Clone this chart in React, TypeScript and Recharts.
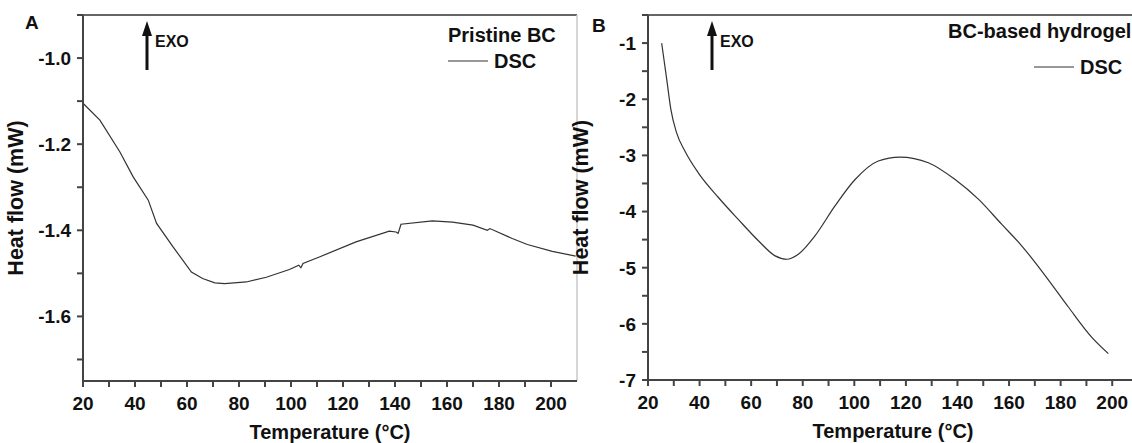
import React from "react"
import { LineChart, Line, XAxis, YAxis, ReferenceLine, Legend } from "recharts"

// Pristine BC (panel A)
const tempA = [20, 26.5, 34.2, 39.3, 45.1, 48.3, 54.7, 61.7, 66, 70.7, 74.5, 82.8, 90.5, 99.4, 103, 103.8, 104.6, 110.9, 125, 137.8, 140.4, 141.2, 142.3, 154.4, 162.1, 170, 175.5, 176.5, 185.1, 190.9, 200.5, 209.5]
const heatA = [-1.105, -1.144, -1.218, -1.276, -1.33, -1.384, -1.439, -1.497, -1.512, -1.522, -1.524, -1.52, -1.509, -1.491, -1.481, -1.487, -1.477, -1.462, -1.427, -1.402, -1.404, -1.407, -1.386, -1.378, -1.381, -1.388, -1.4, -1.396, -1.419, -1.433, -1.449, -1.46]

// BC-based hydrogel (panel B)
const tempB = [25.3, 27.3, 28.9, 31.1, 34.4, 39.5, 47.3, 55, 62.8, 69.3, 73.8, 78.3, 84.8, 92.5, 100.3, 109.3, 117.7, 128.7, 139.1, 148.1, 157.2, 164.9, 174, 183, 192.1, 198.5]
const heatB = [-1.0, -1.66, -2.19, -2.6, -2.93, -3.31, -3.75, -4.14, -4.52, -4.79, -4.85, -4.76, -4.43, -3.9, -3.43, -3.1, -3.03, -3.13, -3.43, -3.78, -4.23, -4.61, -5.14, -5.7, -6.24, -6.53]

const xTicks = [20, 30, 40, 50, 60, 70, 80, 90, 100, 110, 120, 130, 140, 150, 160, 170, 180, 190, 200]
const yTicksA = [-1.7, -1.6, -1.5, -1.4, -1.3, -1.2, -1.1, -1.0, -0.9]
const yMajorA = [-1.6, -1.4, -1.2, -1.0]
const yTicksB = [-7, -6.5, -6, -5.5, -5, -4.5, -4, -3.5, -3, -2.5, -2, -1.5, -1, -0.5]
const yMajorB = [-7, -6, -5, -4, -3, -2, -1]

const dataA = tempA.map((t, i) => ({ t, v: heatA[i] }))
const dataB = tempB.map((t, i) => ({ t, v: heatB[i] }))

const FONT = '"Liberation Sans", Arial, sans-serif'
const AXIS = "#444"
const TEXT = "#111"
const bold = { fontFamily: FONT, fontWeight: 700 }

const xLabel = (v: number) => (v % 20 === 0 ? String(v) : "")
const yLabel = (majors: number[], digits: number) => (v: number) =>
  majors.some((m) => Math.abs(m - v) < 1e-6) ? v.toFixed(digits) : ""

// tick label renderers (Recharts supplies x, y and the tick value)
const renderXTick = (p: any) => (
  <text x={p.x} y={p.y} dy="0.8em" textAnchor="middle" fill={TEXT} style={{ ...bold, fontSize: 19, fill: TEXT }}>
    {xLabel(p.payload.value)}
  </text>
)
const makeYTick = (fmt: (v: number) => string) => (p: any) => (
  <text x={p.x} y={p.y} dy="0.36em" textAnchor="end" fill={TEXT} style={{ ...bold, fontSize: 19, fill: TEXT }}>
    {fmt(p.payload.value)}
  </text>
)

function legendContent(title: string, titleX: number, titleY: number, lineX: number, lineY: number) {
  return () => (
    <svg width={200} height={80} style={{ position: "absolute", left: 0, top: 0, overflow: "visible" }}>
      <text x={titleX} y={titleY} style={{ ...bold, fontSize: 20 }} fill={TEXT}>
        {title}
      </text>
      <line x1={lineX} x2={lineX + 40} y1={lineY} y2={lineY} stroke="#333" strokeWidth={1.2} />
      <text x={lineX + 46} y={lineY} dy="0.36em" style={{ ...bold, fontSize: 20 }} fill={TEXT}>
        DSC
      </text>
    </svg>
  )
}

const xTitleStyle = { ...bold, fontSize: 20, fill: TEXT, textAnchor: "middle" } as any
const yTitleStyle = { ...bold, fontSize: 21.5, fill: TEXT, textAnchor: "middle" } as any

function Panel(props: { data: any[]; yDomain: number[]; yTicks: number[]; yTick: any; top: number; legend: any; smooth: boolean; showRight: boolean }) {
  const { data, yDomain, yTicks, yTick, top, legend, smooth, showRight } = props
  return (
    <LineChart width={showRight ? 590 : 585} height={443} data={data} margin={{ top: 15, right: showRight ? 13 : 12, left: 0, bottom: 0 }}>
      <XAxis
        dataKey="t"
        type="number"
        domain={[20, 210]}
        ticks={xTicks}
        interval={0}
        tickSize={6}
        tickMargin={8}
        tick={renderXTick}
        tickLine={{ stroke: AXIS, strokeWidth: 2 }}
        axisLine={{ stroke: AXIS, strokeWidth: 2 }}
        height={62}
        label={{ value: "Temperature (°C)", position: "insideBottom", offset: 4, style: xTitleStyle }}
      />
      <YAxis
        type="number"
        domain={yDomain}
        ticks={yTicks}
        interval={0}
        tickSize={6}
        tickMargin={6}
        tick={yTick}
        tickLine={{ stroke: AXIS, strokeWidth: 2 }}
        axisLine={{ stroke: AXIS, strokeWidth: 2 }}
        width={83}
        allowDataOverflow
        label={{ value: "Heat flow (mW)", angle: -90, position: "insideLeft", offset: 22, dx: -7, style: yTitleStyle }}
      />
      <ReferenceLine y={top} stroke="#666" strokeWidth={2} />
      {showRight && <ReferenceLine x={210} stroke="#c8c8c8" strokeWidth={1.5} />}
      <Legend content={legend} wrapperStyle={{ position: "absolute", left: 0, top: 0, width: 1, height: 1 }} />
      <Line dataKey="v" type={smooth ? "monotone" : "linear"} stroke="#333" strokeWidth={1.2} dot={false} isAnimationActive={false} legendType="line" />
    </LineChart>
  )
}

function Exo(props: { x: number; letter: string; letterX: number; letterY: number }) {
  const { x, letter, letterX, letterY } = props
  return (
    <g>
      <text x={letterX} y={letterY} style={{ ...bold, fontSize: 19 }} fill={TEXT}>
        {letter}
      </text>
      <line x1={x} x2={x} y1={32} y2={70} stroke="#111" strokeWidth={3} />
      <polygon points={`${x - 5},${36} ${x},${21} ${x + 5},${36}`} fill="#111" />
      <text x={x + 8} y={47} style={{ ...bold, fontSize: 16 }} fill={TEXT}>
        EXO
      </text>
    </g>
  )
}

export default function App() {
  return (
    <div style={{ position: "absolute", left: 0, top: 0, width: 1132, height: 443, overflow: "hidden", background: "#fff" }}>
      <div style={{ position: "absolute", left: 0, top: 0 }}>
        <Panel data={dataA} yDomain={[-1.75, -0.9]} yTicks={yTicksA} yTick={makeYTick(yLabel(yMajorA, 1))} top={-0.9} legend={legendContent("Pristine BC", 448, 42, 448, 61)} smooth={false} showRight />
      </div>
      <div style={{ position: "absolute", left: 565, top: 0 }}>
        <Panel data={dataB} yDomain={[-7, -0.5]} yTicks={yTicksB} yTick={makeYTick(yLabel(yMajorB, 0))} top={-0.5} legend={legendContent("BC-based hydrogel", 383, 38, 469, 67)} smooth showRight={false} />
      </div>
      <svg width={1132} height={443} style={{ position: "absolute", left: 0, top: 0, pointerEvents: "none" }}>
        <Exo x={147} letter="A" letterX={25} letterY={29} />
        <Exo x={712} letter="B" letterX={592} letterY={32} />
      </svg>
    </div>
  )
}
